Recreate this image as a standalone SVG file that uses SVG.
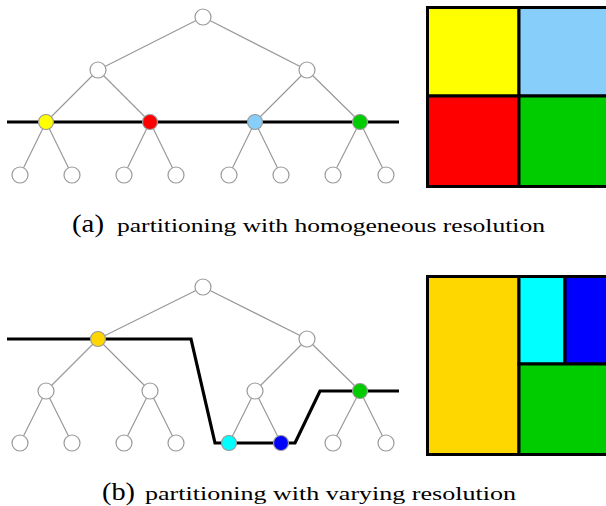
<svg xmlns="http://www.w3.org/2000/svg" width="606" height="506" viewBox="0 0 606 506">
  <style>
    .edge { stroke: #999999; stroke-width: 1.2; fill: none; }
    .cut { stroke: #000000; stroke-width: 3.2; fill: none; stroke-linejoin: miter; }
    .node { stroke: #999999; stroke-width: 1.2; fill: #ffffff; }
    .cell { stroke: #000000; stroke-width: 3; }
    .lbl { font-family: "Liberation Serif", "DejaVu Serif", serif; fill: #000000; }
    .tag { font-size: 25px; }
    .txt { font-size: 19px; }
  </style>

  <!-- (a) homogeneous resolution -->
  <g id="connectors-a">
    <path class="edge" d="M203,17 L98,70 M203,17 L307,70
      M98,70 L46,122 M98,70 L150,122 M307,70 L255,122 M307,70 L360,122
      M46,122 L20,175 M46,122 L72,175 M150,122 L124,175 M150,122 L176,175
      M255,122 L229,175 M255,122 L281,175 M360,122 L333,175 M360,122 L386,175"/>
    <path class="cut" d="M7,122 L399,122"/>
  </g>
  <g id="nodes-a">
    <circle id="a-root" class="node" cx="203" cy="17" r="8"/>
    <circle id="a-l" class="node" cx="98" cy="70" r="8"/>
    <circle id="a-r" class="node" cx="307" cy="70" r="8"/>
    <circle id="a-ll" class="node" cx="46" cy="122" r="7.5" style="fill:#ffff00"/>
    <circle id="a-lr" class="node" cx="150" cy="122" r="7.5" style="fill:#ff0000"/>
    <circle id="a-rl" class="node" cx="255" cy="122" r="7.5" style="fill:#87cefa"/>
    <circle id="a-rr" class="node" cx="360" cy="122" r="7.5" style="fill:#00cc00"/>
    <circle class="node" cx="20" cy="175" r="8"/>
    <circle class="node" cx="72" cy="175" r="8"/>
    <circle class="node" cx="124" cy="175" r="8"/>
    <circle class="node" cx="176" cy="175" r="8"/>
    <circle class="node" cx="229" cy="175" r="8"/>
    <circle class="node" cx="281" cy="175" r="8"/>
    <circle class="node" cx="333" cy="175" r="8"/>
    <circle class="node" cx="386" cy="175" r="8"/>
  </g>
  <g id="grid-a">
    <rect class="cell" x="427.5" y="7.5" width="91.5" height="88.5" fill="#ffff00"/>
    <rect class="cell" x="519" y="7.5" width="91" height="88.5" fill="#87cefa"/>
    <rect class="cell" x="427.5" y="96" width="91.5" height="90.5" fill="#ff0000"/>
    <rect class="cell" x="519" y="96" width="91" height="90.5" fill="#00cc00"/>
  </g>
  <text class="lbl" x="72" y="232"><tspan class="tag" textLength="32" lengthAdjust="spacingAndGlyphs">(a)</tspan><tspan class="txt" x="117" textLength="428" lengthAdjust="spacingAndGlyphs">partitioning with homogeneous resolution</tspan></text>

  <!-- (b) varying resolution -->
  <g id="connectors-b">
    <path class="edge" d="M203,287 L98,339 M203,287 L307,339
      M98,339 L46,391 M98,339 L150,391 M307,339 L255,391 M307,339 L360,391
      M46,391 L20,443 M46,391 L72,443 M150,391 L124,443 M150,391 L176,443
      M255,391 L229,443 M255,391 L281,443 M360,391 L333,443 M360,391 L386,443"/>
    <path class="cut" d="M7,339 L191,339 L215,443 L295,443 L320,391 L399,391"/>
  </g>
  <g id="nodes-b">
    <circle id="b-root" class="node" cx="203" cy="287" r="8"/>
    <circle id="b-l" class="node" cx="98" cy="339" r="7.5" style="fill:#ffd700"/>
    <circle id="b-r" class="node" cx="307" cy="339" r="8"/>
    <circle class="node" cx="46" cy="391" r="8"/>
    <circle class="node" cx="150" cy="391" r="8"/>
    <circle class="node" cx="255" cy="391" r="8"/>
    <circle id="b-rr" class="node" cx="360" cy="391" r="7.5" style="fill:#00cc00"/>
    <circle class="node" cx="20" cy="443" r="8"/>
    <circle class="node" cx="72" cy="443" r="8"/>
    <circle class="node" cx="124" cy="443" r="8"/>
    <circle class="node" cx="176" cy="443" r="8"/>
    <circle id="b-rll" class="node" cx="229" cy="443" r="7.5" style="fill:#00ffff"/>
    <circle id="b-rlr" class="node" cx="281" cy="443" r="7.5" style="fill:#0000ff"/>
    <circle class="node" cx="333" cy="443" r="8"/>
    <circle class="node" cx="386" cy="443" r="8"/>
  </g>
  <g id="grid-b">
    <rect class="cell" x="427.5" y="276.5" width="91.5" height="178" fill="#ffd700"/>
    <rect class="cell" x="519" y="276.5" width="46" height="87.5" fill="#00ffff"/>
    <rect class="cell" x="565" y="276.5" width="45" height="87.5" fill="#0000ff"/>
    <rect class="cell" x="519" y="364" width="91" height="90.5" fill="#00cc00"/>
  </g>
  <text class="lbl" x="102" y="500"><tspan class="tag" textLength="33" lengthAdjust="spacingAndGlyphs">(b)</tspan><tspan class="txt" x="145" textLength="371" lengthAdjust="spacingAndGlyphs">partitioning with varying resolution</tspan></text>
</svg>
